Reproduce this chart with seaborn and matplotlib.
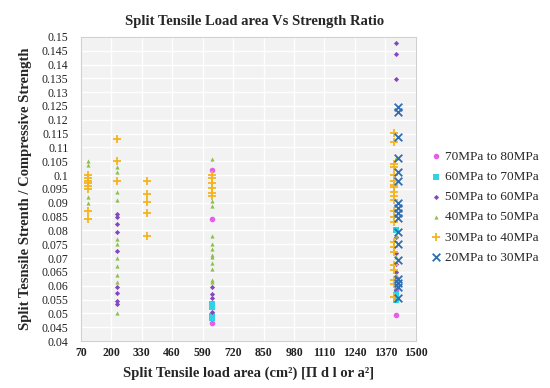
import matplotlib
matplotlib.use("Agg")
import matplotlib.pyplot as plt
import seaborn as sns
import pandas as pd
import numpy as np

# ---- data ----
series_names = ["70MPa to 80MPa", "60MPa to 70MPa", "50MPa to 60MPa",
                "40MPa to 50MPa", "30MPa to 40MPa", "20MPa to 30MPa"]

x_70_80 = [628, 628, 628, 1414, 1414]
y_70_80 = [0.102, 0.0843, 0.0464, 0.0585, 0.0494]

x_60_70 = [628, 628, 628, 628, 1414, 1414, 1414, 1414]
y_60_70 = [0.0534, 0.0524, 0.0492, 0.0484, 0.0802, 0.061, 0.0567, 0.0548]

x_50_60 = [225] * 9 + [628] * 4 + [1414] * 8
y_50_60 = [0.086, 0.085, 0.0823, 0.0793, 0.0726, 0.0597, 0.0573, 0.0545, 0.0535,
           0.0594, 0.057, 0.0555, 0.0504,
           0.1477, 0.1438, 0.1349, 0.0775, 0.072, 0.068, 0.065, 0.063]

x_40_50 = [100] * 4 + [225] * 11 + [628] * 12 + [1414] * 5
y_40_50 = [0.105, 0.1035, 0.092, 0.090,
           0.103, 0.101, 0.094, 0.091, 0.0768, 0.075, 0.070, 0.067, 0.064, 0.0612, 0.050,
           0.1059, 0.0907, 0.0889, 0.078, 0.075, 0.0732, 0.0711, 0.0704, 0.0681, 0.066, 0.0621, 0.0614,
           0.1061, 0.078, 0.0705, 0.064, 0.060]

x_30_40 = [100] * 8 + [225] * 3 + [353] * 5 + [628] * 6 + [1408] * 22
y_30_40 = [0.100, 0.099, 0.098, 0.097, 0.096, 0.095, 0.087, 0.084,
           0.113, 0.105, 0.098,
           0.098, 0.0932, 0.0902, 0.0862, 0.0781,
           0.1001, 0.0989, 0.0971, 0.0953, 0.0935, 0.0925,
           0.1153, 0.112, 0.104, 0.1029, 0.1001, 0.098, 0.0965, 0.0958, 0.094, 0.0925,
           0.091, 0.087, 0.085, 0.083, 0.0758, 0.0741, 0.0723, 0.0675, 0.0657, 0.062,
           0.0605, 0.056]

x_20_30 = [1425] * 17
y_20_30 = [0.1246, 0.1230, 0.1137, 0.1061, 0.1013, 0.0977, 0.0898, 0.088, 0.0862,
           0.0844, 0.0796, 0.075, 0.0693, 0.0623, 0.0609, 0.0597, 0.0555]

x_ticks = [70, 200, 330, 460, 590, 720, 850, 980, 1110, 1240, 1370, 1500]
y_ticks = [0.04, 0.045, 0.05, 0.055, 0.06, 0.065, 0.07, 0.075, 0.08, 0.085, 0.09,
           0.095, 0.1, 0.105, 0.11, 0.115, 0.12, 0.125, 0.13, 0.135, 0.14, 0.145, 0.15]
y_tick_labels = ["0.04", "0.045", "0.05", "0.055", "0.06", "0.065", "0.07", "0.075",
                 "0.08", "0.085", "0.09", "0.095", "0.1", "0.105", "0.11", "0.115",
                 "0.12", "0.125", "0.13", "0.135", "0.14", "0.145", "0.15"]

# ---- styling ----
sns.set_theme(style="darkgrid")
plt.rcParams["font.family"] = ["Liberation Serif", "DejaVu Serif"]

fig = plt.figure(figsize=(5.5, 3.88), dpi=100)
ax = fig.add_axes([0.147, 0.121, 0.609, 0.784])
ax.set_facecolor("#F2F2F2")

xs = [x_70_80, x_60_70, x_50_60, x_40_50, x_30_40, x_20_30]
ys = [y_70_80, y_60_70, y_50_60, y_40_50, y_30_40, y_20_30]
colors = ["#E45FE8", "#2ED3E6", "#8447C2", "#8DBF4A", "#F4B41E", "#2E6DB4"]
markers = ["o", "s", "D", "^", "+", "x"]
sizes = [16, 16, 7, 9, 36, 30]

for name, xv, yv, c, m, s in zip(series_names, xs, ys, colors, markers, sizes):
    df = pd.DataFrame({"x": xv, "y": yv})
    kw = dict(linewidth=1.3) if m in ("+", "x") else dict(linewidth=0)
    sns.scatterplot(data=df, x="x", y="y", ax=ax, color=c, marker=m, s=s,
                    label=name, zorder=3, **kw)

ax.set_xlim(70, 1500)
ax.set_ylim(0.04, 0.15)
ax.set_xticks(x_ticks)
ax.set_xticklabels([str(t) for t in x_ticks], fontsize=8.5, fontweight="bold")
ax.set_yticks(y_ticks)
ax.set_yticklabels(y_tick_labels, fontsize=8.5)
ax.grid(True, color="white", linewidth=1.0)
ax.tick_params(axis="both", length=0, pad=4, colors="#222222")
ax.tick_params(axis="y", pad=9)
for sp in ax.spines.values():
    sp.set_visible(True)
    sp.set_color("#D0D0D0")
    sp.set_linewidth(0.8)

ax.set_xlabel("Split Tensile load area (cm²) [Π d l or a²]", fontsize=10.5,
              fontweight="bold", labelpad=6)
ax.set_ylabel("Split Tesnsile Strenth / Compressive Strength", fontsize=10.5,
              fontweight="bold", labelpad=7)
fig.text(0.462, 0.945, "Split Tensile Load area Vs Strength Ratio", ha="center",
         va="center", fontsize=10.5, fontweight="bold")

leg = ax.legend(loc="center left", bbox_to_anchor=(1.0, 0.44), frameon=False,
                fontsize=9.5, handletextpad=0.1, labelspacing=0.6, markerscale=1.0,
                handlelength=1.2)

fig.savefig("out.png", dpi=100, facecolor="white")
